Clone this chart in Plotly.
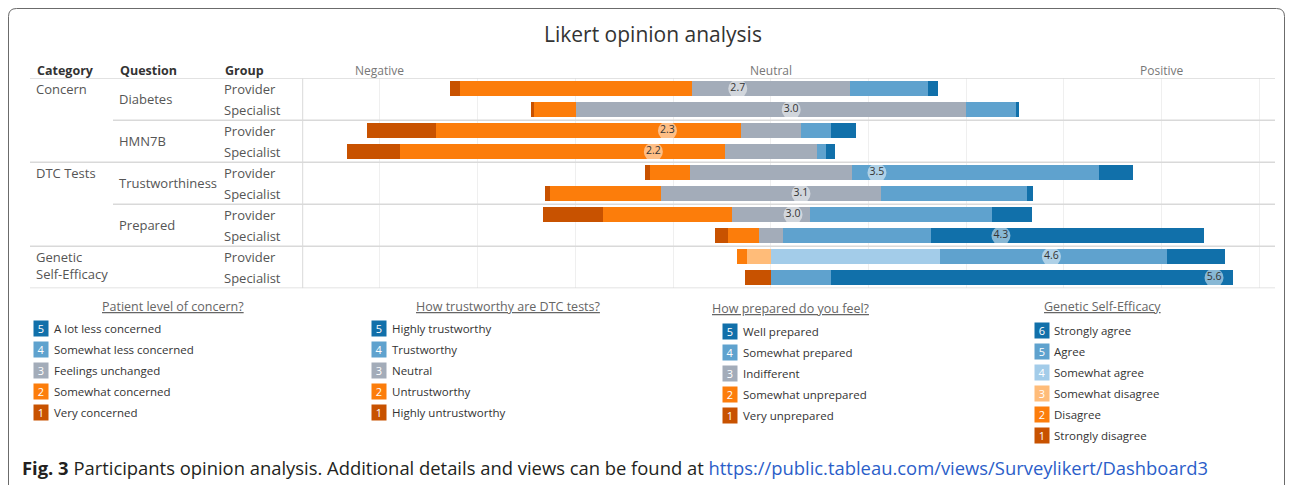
import plotly.graph_objects as go

W, H = 1293, 493
OX, OY = 8, 8              # page body margin of the html page
FW, FH = W - 2 * OX, H - 2 * OY
FONT = "Open Sans"

# ---------------- data ----------------
row_category = ["Concern"] * 4 + ["DTC Tests"] * 4 + ["Genetic Self-Efficacy"] * 2
row_question = ["Diabetes", "Diabetes", "HMN7B", "HMN7B",
                "Trustworthiness", "Trustworthiness", "Prepared", "Prepared", "", ""]
row_group = ["Provider", "Specialist"] * 5
row_scale = [5] * 8 + [6] * 2

# percentage of answers per level (level 1 = most negative)
diabetes_provider = [1.9, 47.6, 32.3, 16.0, 2.1]
diabetes_specialist = [0.7, 8.5, 79.9, 10.3, 0.6]
hmn7b_provider = [14.1, 62.5, 12.2, 6.1, 5.1]
hmn7b_specialist = [10.9, 66.5, 18.8, 1.8, 1.8]
trust_provider = [1.1, 8.1, 33.2, 50.5, 7.0]
trust_specialist = [1.0, 22.8, 44.9, 30.0, 1.2]
prepared_provider = [12.2, 26.4, 16.0, 37.3, 8.1]
prepared_specialist = [2.6, 6.4, 4.9, 30.2, 55.9]
gse_provider = [0.0, 2.1, 4.9, 34.5, 46.5, 12.0]
gse_specialist = [5.3, 0.0, 0.0, 0.0, 12.2, 82.4]

rows = [diabetes_provider, diabetes_specialist, hmn7b_provider, hmn7b_specialist,
        trust_provider, trust_specialist, prepared_provider, prepared_specialist,
        gse_provider, gse_specialist]

five_colors = ["#c85200", "#fc7d0b", "#a3acb9", "#5fa2ce", "#1170aa"]
six_colors = ["#c85200", "#fc7d0b", "#ffbc79", "#a3cce9", "#5fa2ce", "#1170aa"]

legend_concern = ["A lot less concerned", "Somewhat less concerned", "Feelings unchanged",
                  "Somewhat concerned", "Very concerned"]
legend_trust = ["Highly trustworthy", "Trustworthy", "Neutral", "Untrustworthy",
                "Highly untrustworthy"]
legend_prepared = ["Well prepared", "Somewhat prepared", "Indifferent",
                   "Somewhat unprepared", "Very unprepared"]
legend_gse = ["Strongly agree", "Agree", "Somewhat agree", "Somewhat disagree",
              "Disagree", "Strongly disagree"]
legend_titles = ["Patient level of concern?", "How trustworthy are DTC tests?",
                 "How prepared do you feel?", "Genetic Self-Efficacy"]
axis_labels = ["Negative", "Neutral", "Positive"]
axis_label_pos = [-80, 0, 80]
grid_ticks = list(range(-80, 101, 20))

# ---------------- helpers ----------------
def px(x):
    return (x - OX) / FW

def py(y):
    return 1 - (y - OY) / FH

fig = go.Figure()

# stacked diverging bars, one trace per colour
traces = {}
for r, vals in enumerate(rows):
    scale = row_scale[r]
    colors = five_colors if scale == 5 else six_colors
    if scale == 5:
        start = -(vals[0] + vals[1] + vals[2] / 2)
    else:
        start = -(vals[0] + vals[1] + vals[2])
    cur = start
    for lvl, v in enumerate(vals):
        if v > 0:
            t = traces.setdefault(colors[lvl], {"y": [], "x": [], "base": []})
            t["y"].append(r)
            t["x"].append(v)
            t["base"].append(cur)
        cur += v

for col, t in traces.items():
    fig.add_trace(go.Bar(y=t["y"], x=t["x"], base=t["base"], orientation="h",
                         marker=dict(color=col, line=dict(width=0)), width=0.76,
                         showlegend=False, hoverinfo="skip"))

# mean score circles
means = [sum((i + 1) * v for i, v in enumerate(vals)) / sum(vals) for vals in rows]
MEAN_OFFSET = 2.89
MEAN_SCALE = 100 / 3
dot_x = [(m - MEAN_OFFSET) * MEAN_SCALE for m in means]
fig.add_trace(go.Scatter(x=dot_x, y=list(range(len(rows))), mode="markers+text",
                         text=[f"{m:.1f}" for m in means], textposition="middle center",
                         textfont=dict(family=FONT, size=10.5, color="#333333"),
                         marker=dict(size=19, color="rgba(255,255,255,0.5)", line=dict(width=0)),
                         showlegend=False, hoverinfo="skip"))

annotations = []
shapes = []

def ann(text, x, y, xref="paper", yref="paper", xanchor="left", yanchor="middle", **kw):
    d = dict(text=text, x=x, y=y, xref=xref, yref=yref, xanchor=xanchor, yanchor=yanchor,
             showarrow=False)
    d.update(kw)
    annotations.append(d)

# title
ann("Likert opinion analysis", px(653), py(34), xanchor="center",
    font=dict(family=FONT, size=21, color="#333333"))

# headers
for txt, x in zip(["Category", "Question", "Group"], [35, 118, 223]):
    ann(f"<b>{txt}</b>", px(x), py(70), font=dict(family=FONT, size=12.5, color="#333333"))
for txt, xv in zip(axis_labels, axis_label_pos):
    ann(txt, xv, py(70), xref="x", xanchor="center",
        font=dict(family=FONT, size=12, color="#777777"))

# row labels
lab_font = dict(family=FONT, size=13, color="#555555")
seen_cat = []
for r, c in enumerate(row_category):
    if c not in seen_cat:
        seen_cat.append(c)
        if c == "Genetic Self-Efficacy":
            a, b = c.split(" ", 1)
            ann(f"{a}<br>{b}", px(34), r + 0.43, yref="y", align="left", font=lab_font)
        else:
            ann(c, px(34), r, yref="y", font=lab_font)
seen_q = []
for r, q in enumerate(row_question):
    if q and q not in seen_q:
        seen_q.append(q)
        idx = [i for i, qq in enumerate(row_question) if qq == q]
        ann(q, px(117), sum(idx) / len(idx), yref="y", font=lab_font)
for r, g in enumerate(row_group):
    ann(g, px(222), r, yref="y", font=lab_font)

# separators
sep_col = "#d9d9d9"
def hline(x0, yv):
    shapes.append(dict(type="line", xref="paper", yref="y", x0=px(x0), x1=px(1275),
                       y0=yv, y1=yv, line=dict(color=sep_col, width=1.5)))
hline(30, -0.5)
for r in range(1, len(rows)):
    if row_category[r] != row_category[r - 1]:
        hline(30, r - 0.5)
    elif row_question[r] != row_question[r - 1]:
        hline(113, r - 0.5)
hline(30, len(rows) - 0.5)
shapes.append(dict(type="line", xref="paper", yref="y", x0=px(302.7), x1=px(302.7),
                   y0=-0.5, y1=len(rows) - 0.5, line=dict(color=sep_col, width=1)))

# legends
blocks = [
    (legend_titles[0], legend_concern, five_colors, 172.7, 306.7, 34, 51.5, 328.3, 21.0),
    (legend_titles[1], legend_trust, five_colors, 507.5, 306.7, 372, 389.5, 328.3, 21.0),
    (legend_titles[2], legend_prepared, five_colors, 790.8, 308.3, 723.5, 740.5, 331.0, 21.1),
    (legend_titles[3], legend_gse, six_colors, 1102, 306.0, 1035, 1052, 330.7, 20.9),
]
for title, labels, cols, tx, ty, sqx, txx, y0, dy in blocks:
    ann(f"<u>{title}</u>", px(tx), py(ty), xanchor="center",
        font=dict(family=FONT, size=12.5, color="#666666"))
    n = len(labels)
    for i, lab in enumerate(labels):
        num = n - i
        yy = y0 + i * dy
        ann(str(num), px(sqx + 7), py(yy), xanchor="center", width=14, height=15,
            bgcolor=cols[num - 1], borderpad=0,
            font=dict(family=FONT, size=11, color="#ffffff"))
        ann(lab, px(txx), py(yy), font=dict(family=FONT, size=11.5, color="#333333"))

# caption
ann("<b>Fig. 3</b> Participants opinion analysis. Additional details and views can be found at "
    "<span style='color:#2b5ec9'>https://public.tableau.com/views/Surveylikert/Dashboard3</span>",
    px(20), py(467), font=dict(family=FONT, size=18.4, color="#231f20"))

# outer frame
r_ = 8
L, T, R, B = 8.5, 8.5, 1284.5, 500
path = (f"M {px(L)},{py(B)} L {px(L)},{py(T + r_)} Q {px(L)},{py(T)} {px(L + r_)},{py(T)} "
        f"L {px(R - r_)},{py(T)} Q {px(R)},{py(T)} {px(R)},{py(T + r_)} L {px(R)},{py(B)}")
shapes.append(dict(type="path", xref="paper", yref="paper", path=path,
                   line=dict(color="#6b6b6b", width=1)))

x_left = (302.7 - 770.7) / 4.885
x_right = (1275 - 770.7) / 4.885

fig.update_layout(
    width=FW, height=FH, margin=dict(l=0, r=0, t=0, b=0),
    paper_bgcolor="white", plot_bgcolor="white",
    barmode="overlay", bargap=0,
    xaxis=dict(domain=[px(302.7), px(1275)], range=[x_left, x_right], tickvals=grid_ticks,
               showticklabels=False, showgrid=True, gridcolor="#efefef", gridwidth=1,
               zeroline=False, showline=False, fixedrange=True),
    yaxis=dict(domain=[py(288.3), py(78.3)], range=[len(rows) - 0.5, -0.5], showticklabels=False,
               showgrid=False, zeroline=False, showline=False, fixedrange=True),
    annotations=annotations, shapes=shapes, showlegend=False,
)

fig.write_html("out.html")
